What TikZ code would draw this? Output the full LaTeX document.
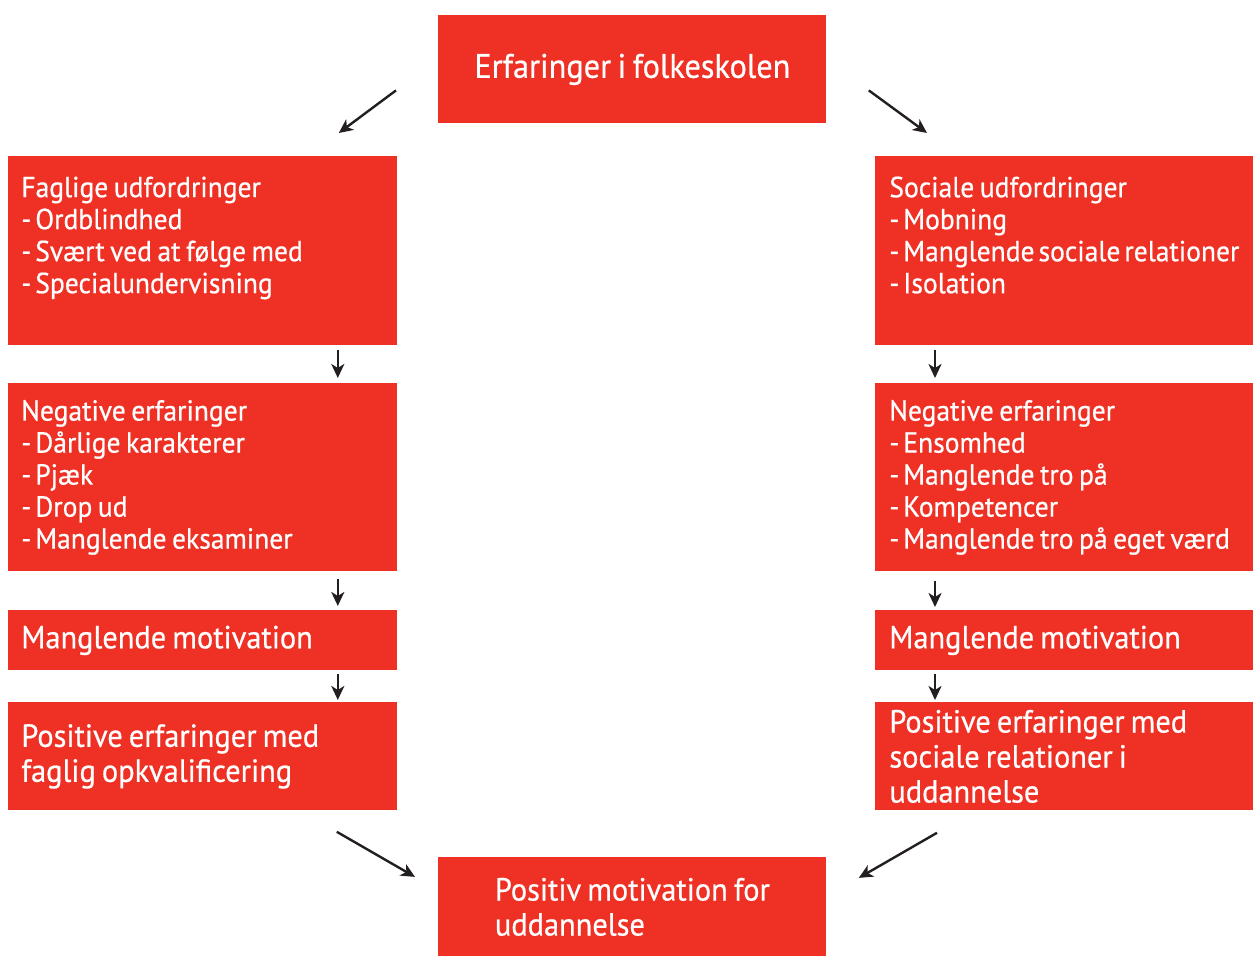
\documentclass[tikz,border=0pt]{standalone}
\usepackage{fontspec}
\setmainfont[WordSpace=0.75,FakeBold=0.6,FakeStretch=0.95]{PT Sans}
\usetikzlibrary{arrows.meta,positioning}
\definecolor{boxred}{HTML}{EE3124}
\definecolor{arrowgray}{HTML}{231F20}
\newcommand\dash{-\kern2pt}
\tikzset{
 box/.style={fill=boxred,text=white,inner xsep=6.5pt,inner ysep=0pt,align=left,anchor=north west,
  execute at begin node={\spaceskip=0pt\xspaceskip=0pt}},
 lcol/.style={box,minimum width=194.5pt,text width=181.5pt},
 rcol/.style={box,minimum width=189pt,text width=175pt,inner xsep=7pt},
 lst/.style={font=\fontsize{14.5}{16}\selectfont},
 big/.style={font=\fontsize{16}{17.5}\selectfont},
 arr/.style={-{Stealth[length=7pt,width=6.5pt,inset=2pt]},line width=1.2pt,arrowgray}
}
\begin{document}
\begin{tikzpicture}[x=0.5pt,y=-0.5pt]
 \useasboundingbox (0,0) rectangle (1253,956);
 % top and bottom
 \node[box,align=center,font=\fontsize{17}{19}\selectfont,minimum width=194pt,minimum height=54pt] (top) at (438,15) {Erfaringer i folkeskolen};
 \node[box,big,minimum width=194pt,minimum height=49.5pt] (bot) at (438,857) {Positiv motivation for\\uddannelse};
 % left column
 \node[lcol,lst,minimum height=94.5pt] (lf1) at (8,156) {Faglige udfordringer\\\dash Ordblindhed\\\dash Svært ved at følge med\\\dash Specialundervisning\\~};
 \node[lcol,lst,minimum height=94pt] (lf2) at (8,383) {Negative erfaringer\\\dash Dårlige karakterer\\\dash Pjæk\\\dash Drop ud\\\dash Manglende eksaminer};
 \node[lcol,big,minimum height=30pt] (lf3) at (8,610) {Manglende motivation};
 \node[lcol,big,minimum height=54pt] (lf4) at (8,702) {Positive erfaringer med\\faglig opkvalificering};
 % right column
 \node[rcol,lst,minimum height=94.5pt] (rf1) at (875,156) {Sociale udfordringer\\\dash Mobning\\\dash Manglende sociale relationer\\\dash Isolation\\~};
 \node[rcol,lst,minimum height=94pt] (rf2) at (875,383) {Negative erfaringer\\\dash Ensomhed\\\dash Manglende tro på\\\dash Kompetencer\\\dash Manglende tro på eget værd};
 \node[rcol,big,minimum height=30pt] (rf3) at (875,610) {Manglende motivation};
 \node[rcol,big,minimum height=54pt] (rf4) at (875,702) {Positive erfaringer med\\sociale relationer i\\uddannelse};
 % arrows
 \draw[arr] ([xshift=-21pt,yshift=-10.5pt]top.west) -- ([xshift=-29.5pt,yshift=11.5pt]lf1.north east);
 \draw[arr] ([xshift=21pt,yshift=-10.5pt]top.east) -- ([xshift=26pt,yshift=11.5pt]rf1.north west);
 \draw[arr] ([xshift=-30pt,yshift=-2pt]lf1.south east) -- ([xshift=-30pt,yshift=2.5pt]lf2.north east);
 \draw[arr] ([xshift=-30pt,yshift=-3.5pt]lf2.south east) -- ([xshift=-30pt,yshift=2pt]lf3.north east);
 \draw[arr] ([xshift=-30pt,yshift=-1.5pt]lf3.south east) -- ([xshift=-30pt,yshift=1pt]lf4.north east);
 \draw[arr] ([xshift=30pt,yshift=-2pt]rf1.south west) -- ([xshift=30pt,yshift=2.5pt]rf2.north west);
 \draw[arr] ([xshift=30pt,yshift=-4.5pt]rf2.south west) -- ([xshift=30pt,yshift=1.5pt]rf3.north west);
 \draw[arr] ([xshift=30pt,yshift=-1.5pt]rf3.south west) -- ([xshift=30pt,yshift=1pt]rf4.north west);
 \draw[arr] ([xshift=-30.5pt,yshift=-10.5pt]lf4.south east) -- ([xshift=-11.5pt,yshift=15pt]bot.west);
 \draw[arr] ([xshift=31pt,yshift=-11pt]rf4.south west) -- ([xshift=16pt,yshift=14.5pt]bot.east);
\end{tikzpicture}
\end{document}
